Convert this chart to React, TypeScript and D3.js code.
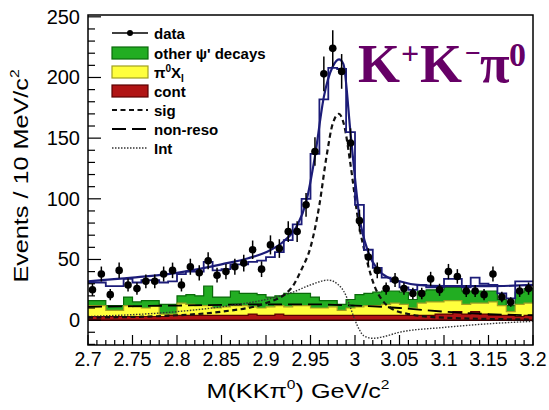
import React from 'react';
import * as d3 from 'd3';

// 10 MeV bins from 2.70 to 3.20 GeV
const massLow = 2.7;
const binWidth = 0.01;

// observed events per bin
const dataEvents = [25, 38, 21, 41, 29, 26, 32, 32, 38, 41, 29, 44, 39, 49, 37, 40, 44, 47, 58, 42,
  62, 59, 73, 73, 95, 139, 203, 224, 205, 146, 82, 52, 41, 26, 33, 26, 22, 22, 34, 25,
  40, 36, 24, 24, 21, 38, 19, 15, 24, 26];

// fitted total, binned (blue histogram)
const totalHist = [31, 31, 28, 28, 34, 31, 33, 33, 31, 32, 38, 40, 40, 48, 41, 42, 46, 46, 48, 49,
  52, 56, 66, 79, 100, 137, 182, 208, 207, 155, 95, 58, 43, 35, 32, 27, 25, 29, 27, 27,
  34, 34, 27, 35, 30, 29, 22, 18, 32, 32];

// background components (own heights, stacked when drawn)
const contHist = [3, 3, 3, 3, 3, 3, 3, 3, 3, 4, 4, 4, 4, 4, 4, 4, 4, 4, 5, 4,
  4, 5, 4, 4, 4, 4, 4, 4, 4, 4, 4, 4, 4, 4, 4, 4, 4, 4, 4, 5,
  5, 7, 5, 7, 5, 4, 4, 4, 3, 4];
const pi0XHist = [9, 9, 5, 5, 9, 8, 7, 9, 2, 1, 10, 9, 8, 8, 6, 7, 8, 8, 6, 6,
  7, 7, 7, 8, 8, 6, 6, 7, 4, 6, 7, 8, 8, 9, 10, 9, 6, 10, 11, 10,
  11, 9, 8, 7, 9, 11, 8, 3, 10, 10];
const otherHist = [4, 4, 4, 4, 7, 4, 6, 4, 8, 8, 6, 8, 8, 16, 9, 8, 12, 10, 11, 11,
  8, 8, 11, 10, 10, 9, 6, 5, 5, 7, 10, 10, 11, 11, 10, 10, 7, 10, 10, 10,
  11, 11, 11, 10, 10, 9, 5, 5, 10, 12];

// smooth fit curves
const fitMass = [2.70, 2.75, 2.80, 2.85, 2.88, 2.90, 2.92, 2.935, 2.945, 2.955, 2.965, 2.975, 2.982, 2.987,
  2.995, 3.005, 3.015, 3.025, 3.035, 3.05, 3.07, 3.10, 3.15, 3.20];
const fitEvents = [32, 35, 39, 46, 51, 56, 65, 78, 97, 135, 184, 209, 215, 211,
  154, 85, 56, 42, 36, 32, 29, 28, 28, 29];

const sigMass = [2.70, 2.80, 2.85, 2.90, 2.928, 2.94, 2.95, 2.96, 2.968, 2.975, 2.982, 2.988, 2.995,
  3.003, 3.013, 3.022, 3.03, 3.04, 3.06, 3.10, 3.20];
const sigEvents = [2, 4, 7, 14, 26, 42, 60, 95, 135, 162, 170, 160, 128,
  85, 50, 28, 17, 10, 5, 2, 0.5];

const nonresoMass = [2.70, 2.80, 2.90, 2.95, 3.00, 3.05, 3.10, 3.15, 3.20];
const nonresoEvents = [11, 12, 13, 13, 12, 10, 7, 5, 4];

const intMass = [2.70, 2.80, 2.85, 2.90, 2.93, 2.95, 2.97, 2.98, 2.99, 2.995, 3.00, 3.005, 3.01, 3.02,
  3.03, 3.05, 3.10, 3.15, 3.20];
const intEvents = [3, 7, 11, 17, 23, 29, 33, 30, 20, 10, 0, -8, -13, -15,
  -14, -10, -6, -3, -1];

// axes
const xTickValues = [2.7, 2.75, 2.8, 2.85, 2.9, 2.95, 3.0, 3.05, 3.1, 3.15, 3.2];
const xTickLabels = ['2.7', '2.75', '2.8', '2.85', '2.9', '2.95', '3', '3.05', '3.1', '3.15', '3.2'];
const yTickValues = [0, 50, 100, 150, 200, 250];
const yTickLabels = ['0', '50', '100', '150', '200', '250'];

const W = 549;
const H = 410;
const sans = '"Liberation Sans", Arial, Helvetica, sans-serif';
const serif = '"Liberation Serif", "Times New Roman", serif';

const colors = {
  other: { fill: '#22ad22', line: '#0a6a0a' },
  pi0X: { fill: '#ffff3c', line: '#a0a020' },
  cont: { fill: '#b01414', line: '#5a0000' },
  blue: '#1c1c78',
};

export default function App() {
  const x = d3.scaleLinear().domain([2.7, 3.2]).range([88, 533]);
  const y = d3.scaleLinear().domain([-20.5, 251.5]).range([345, 15]);

  const nBins = dataEvents.length;
  const centers = dataEvents.map((_, i) => massLow + binWidth * (i + 0.5));
  const edges = d3.range(nBins + 1).map(i => massLow + binWidth * i);

  // stacked background
  const rows = edges.map((e, i) => {
    const k = Math.min(i, nBins - 1);
    return { edge: e, cont: contHist[k], pi0X: pi0XHist[k], other: otherHist[k] };
  });
  const stack = d3.stack<any>().keys(['cont', 'pi0X', 'other'])(rows);

  const bandArea = d3.area<any>()
    .x(d => x(d.data.edge))
    .y0(d => y(d[0]))
    .y1(d => y(d[1]))
    .curve(d3.curveStepAfter);
  const bandTop = d3.line<any>()
    .x(d => x(d.data.edge))
    .y(d => y(d[1]))
    .curve(d3.curveStepAfter);

  const totalPts = edges.map((e, i) => [e, totalHist[Math.min(i, nBins - 1)]] as [number, number]);
  const stepLine = d3.line<[number, number]>()
    .x(d => x(d[0]))
    .y(d => y(d[1]))
    .curve(d3.curveStepAfter);

  const smooth = d3.line<[number, number]>()
    .x(d => x(d[0]))
    .y(d => y(d[1]))
    .curve(d3.curveMonotoneX);
  const zip = (a: number[], b: number[]) => a.map((v, i) => [v, b[i]] as [number, number]);

  const minorX = d3.range(0, 51).map(i => 2.7 + i * 0.01);
  const minorY = d3.range(-20, 251, 10);

  const legendItems = [
    { key: 'data', y: 33 },
    { key: 'other', y: 53 },
    { key: 'pi0X', y: 72 },
    { key: 'cont', y: 91 },
    { key: 'sig', y: 110 },
    { key: 'nonreso', y: 129 },
    { key: 'int', y: 148 },
  ];

  return (
    <svg width={W} height={H} style={{ position: 'absolute', left: 0, top: 0, background: '#fff' }}>
      <defs>
        <clipPath id="frame">
          <rect x={88} y={15} width={445} height={330} />
        </clipPath>
      </defs>

      <g clipPath="url(#frame)">
        {/* background histograms */}
        {stack.slice().reverse().map(s => {
          const c = (colors as any)[s.key];
          return (
            <g key={s.key}>
              <path d={bandArea(s) || ''} fill={c.fill} stroke="none" />
              <path d={bandTop(s) || ''} fill="none" stroke={c.line} strokeWidth={1.2} />
            </g>
          );
        })}
        <line x1={x(2.7)} x2={x(3.2)} y1={y(0)} y2={y(0)} stroke="#300" strokeWidth={1.5} />

        {/* fit components */}
        <path d={smooth(zip(nonresoMass, nonresoEvents)) || ''} fill="none" stroke="#000" strokeWidth={1.8} strokeDasharray="14,6" />
        <path d={smooth(zip(intMass, intEvents)) || ''} fill="none" stroke="#333" strokeWidth={1.4} strokeDasharray="1.5,1.5" />
        <path d={smooth(zip(sigMass, sigEvents)) || ''} fill="none" stroke="#111" strokeWidth={2.2} strokeDasharray="5,3.5" />

        {/* total fit */}
        <path d={stepLine(totalPts) || ''} fill="none" stroke={colors.blue} strokeWidth={1.8} />
        <path d={smooth(zip(fitMass, fitEvents)) || ''} fill="none" stroke={colors.blue} strokeWidth={2.2} />

        {/* data */}
        {dataEvents.map((v, i) => {
          const e = Math.sqrt(v);
          return (
            <g key={i}>
              <line x1={x(centers[i])} x2={x(centers[i])} y1={y(v - e)} y2={y(v + e)} stroke="#000" strokeWidth={1.5} />
              <circle cx={x(centers[i])} cy={y(v)} r={3.8} fill="#000" />
            </g>
          );
        })}
      </g>

      {/* frame */}
      <rect x={88} y={15} width={445} height={330} fill="none" stroke="#000" strokeWidth={1.5} />

      {/* x ticks */}
      {minorX.map((t, i) => (
        <line key={'mx' + i} x1={x(t)} x2={x(t)} y1={345} y2={345 - (i % 5 === 0 ? 10 : 5)} stroke="#000" strokeWidth={1.2} />
      ))}
      {xTickValues.map((t, i) => (
        <text key={'xt' + i} x={x(t)} y={365.5} textAnchor="middle" fontFamily={sans} fontSize={19.5} fill="#000">
          {xTickLabels[i]}
        </text>
      ))}

      {/* y ticks */}
      {minorY.map((t, i) => (
        <line key={'my' + i} x1={88} x2={88 + (t % 50 === 0 ? 13 : 7)} y1={y(t)} y2={y(t)} stroke="#000" strokeWidth={1.2} />
      ))}
      {yTickValues.map((t, i) => (
        <text key={'yt' + i} x={80} y={y(t) + 7} textAnchor="end" fontFamily={sans} fontSize={20} fill="#000">
          {yTickLabels[i]}
        </text>
      ))}

      {/* axis titles */}
      <text transform="translate(298,398) scale(1.2,1)" textAnchor="middle" fontFamily={sans} fontSize={21} fill="#000">
        M(KKπ<tspan fontSize={13} dy={-9}>0</tspan><tspan dy={9}>) GeV/c</tspan><tspan fontSize={13} dy={-9}>2</tspan>
      </text>
      <text transform="translate(28,176) rotate(-90) scale(1.2,1)" textAnchor="middle" fontFamily={sans} fontSize={21} fill="#000">
        Events / 10 MeV/c<tspan fontSize={13} dy={-9}>2</tspan>
      </text>

      {/* legend */}
      {legendItems.map(item => {
        const lx = 112;
        const lw = 36;
        let mark: React.ReactNode = null;
        let label: React.ReactNode = null;
        if (item.key === 'data') {
          mark = (
            <g>
              <line x1={lx} x2={lx + lw} y1={item.y} y2={item.y} stroke="#000" strokeWidth={1.5} />
              <circle cx={lx + lw / 2} cy={item.y} r={3} fill="#000" />
            </g>
          );
          label = 'data';
        } else if (item.key === 'other' || item.key === 'pi0X' || item.key === 'cont') {
          const c = (colors as any)[item.key];
          mark = <rect x={lx} y={item.y - 6} width={lw} height={12} fill={c.fill} stroke={c.line} strokeWidth={1.2} />;
          if (item.key === 'other') label = "other ψ' decays";
          if (item.key === 'pi0X') label = (
            <>π<tspan fontSize={10} dy={-6}>0</tspan><tspan dy={6}>X</tspan><tspan fontSize={10} dy={4}>I</tspan></>
          );
          if (item.key === 'cont') label = 'cont';
        } else if (item.key === 'sig') {
          mark = <line x1={lx} x2={lx + lw} y1={item.y} y2={item.y} stroke="#111" strokeWidth={2} strokeDasharray="5,3.5" />;
          label = 'sig';
        } else if (item.key === 'nonreso') {
          mark = <line x1={lx} x2={lx + lw} y1={item.y} y2={item.y} stroke="#000" strokeWidth={1.8} strokeDasharray="14,6" />;
          label = 'non-reso';
        } else {
          mark = <line x1={lx} x2={lx + lw} y1={item.y} y2={item.y} stroke="#333" strokeWidth={1.4} strokeDasharray="1.5,1.5" />;
          label = 'Int';
        }
        return (
          <g key={item.key}>
            {mark}
            <text x={154} y={item.y + 5.5} fontFamily={sans} fontWeight="bold" fontSize={15} fill="#000">{label}</text>
          </g>
        );
      })}

      {/* channel label */}
      <g fontFamily={serif} fontWeight="bold" fill="#660066">
        <text x={358} y={82} fontSize={54}>K</text>
        <text x={401} y={64} fontSize={32}>+</text>
        <text x={420} y={82} fontSize={54}>K</text>
        <text x={465} y={62} fontSize={28}>−</text>
        <text x={480} y={82} fontSize={54}>π</text>
        <text x={509} y={66} fontSize={34}>0</text>
      </g>
    </svg>
  );
}
